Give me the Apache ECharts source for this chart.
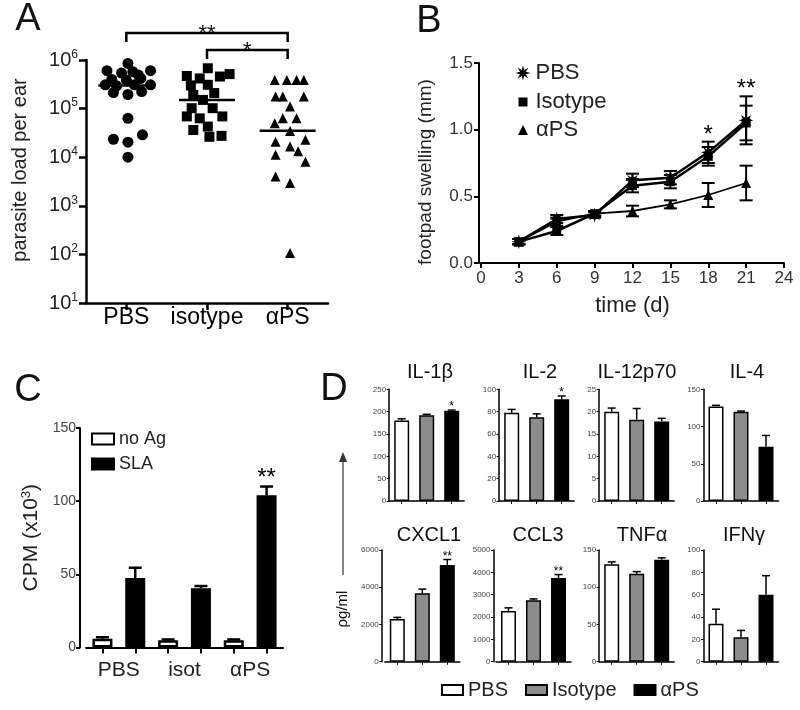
<!DOCTYPE html>
<html><head><meta charset="utf-8">
<script src="https://cdn.jsdelivr.net/npm/echarts@6/dist/echarts.min.js"></script>
<style>html,body{margin:0;padding:0;background:#fff}#c{width:800px;height:710px}</style>
</head><body><div id="c"></div>
<script>
const FONT = '"Liberation Sans", Arial, Helvetica, sans-serif';

// ---------- Panel A data ----------
const aCategories = ['PBS', 'isotype', 'αPS'];
const aPBS = [[1.02,851000],[0.76,603000],[1.30,603000],[0.94,537000],[1.08,575000],[1.15,490000],[0.82,398000],[1.18,417000],[1.00,389000],[0.74,309000],[0.88,295000],[1.10,309000],[1.30,309000],[0.84,214000],[1.02,195000],[1.19,224000],[1.02,63000],[0.84,23400],[1.02,20400],[1.20,28800],[1.02,10000]];
const aIsotype = [[2.01,676000],[1.75,468000],[1.91,417000],[2.16,457000],[2.28,513000],[2.01,309000],[1.80,300000],[1.83,191000],[2.09,209000],[1.95,151000],[1.81,102000],[2.07,102000],[1.75,69000],[2.19,69000],[1.91,63000],[2.01,42700],[1.83,36300],[2.03,26300],[2.18,27500]];
const aAlphaPS = [[2.84,389000],[2.99,389000],[3.11,389000],[3.20,389000],[2.85,178000],[2.94,178000],[3.20,178000],[3.03,110000],[2.84,50000],[2.94,63000],[3.11,63000],[3.03,34700],[2.85,20900],[3.03,16600],[3.22,22900],[2.85,11200],[3.13,13200],[3.22,8100],[2.85,4000],[3.03,2950],[3.03,107]];
const aMedians = [300000, 150000, 35000];
const aBrackets = [[1, 3, '**'], [2, 3, '*']];

// ---------- Panel B data ----------
const bDays = [3, 6, 9, 12, 15, 18, 21];
const bPBS = [0.16, 0.33, 0.36, 0.62, 0.64, 0.83, 1.07];
const bPBSErr = [0.02, 0.03, 0.02, 0.05, 0.05, 0.08, 0.18];
const bIsotype = [0.16, 0.24, 0.37, 0.58, 0.61, 0.80, 1.05];
const bIsotypeErr = [0.02, 0.03, 0.02, 0.05, 0.05, 0.07, 0.13];
const bAlphaPS = [0.16, 0.31, 0.37, 0.39, 0.44, 0.51, 0.60];
const bAlphaPSErr = [0.02, 0.03, 0.02, 0.04, 0.03, 0.09, 0.13];
const bSig = ['', '', '', '', '', '*', '**'];

// ---------- Panel C data ----------
const cCategories = ['PBS', 'isot', 'αPS'];
const cNoAg = [6, 5, 5];
const cNoAgErr = [1, 0.5, 0.5];
const cSLA = [47.5, 40.5, 104];
const cSLAErr = [7, 1.5, 6];
const cSig = ['', '', '**'];

// ---------- Panel D data ----------
const dGroups = ['PBS', 'Isotype', 'αPS'];
const dPanels = ['IL-1β', 'IL-2', 'IL-12p70', 'IL-4', 'CXCL1', 'CCL3', 'TNFα', 'IFNγ'];
const dMax = [250, 100, 25, 150, 6000, 5000, 150, 100];
const dInterval = [50, 20, 5, 50, 2000, 1000, 50, 20];
const dValues = [[180,192,202],[79,75,91],[20,18.2,17.8],[127,120,73],[2300,3680,5200],[2270,2750,3750],[131,118,137],[34,22,60]];
const dErrors = [[4,2,1.5],[3,3,3],[0.8,2.5,0.7],[1.5,0.8,15],[80,220,290],[140,60,150],[3,3,2.5],[13,6,17]];
const dSig = [['','','*'],['','','*'],['','',''],['','',''],['','','**'],['','','**'],['','',''],['','','']];

// ---------- layout / style ----------
const dColors = ['#ffffff', '#8c8c8c', '#000000'];
const dGridLeft = [389.2, 499.2, 599.2, 703.5, 384.8, 496, 599.2, 703.5];
const dAxisOffset = [0, 0, 0, 0, 3, 2.5, 0, 0];
const dTitleX = [430, 540, 637, 747, 429, 538, 642, 744];

function starPath(n, r1, r2) {
  let d = '';
  for (let k = 0; k < 2 * n; k++) {
    const r = k % 2 ? r2 : r1;
    const a = Math.PI * k / n - Math.PI / 2;
    d += (k ? 'L' : 'M') + (r * Math.cos(a)).toFixed(3) + ',' + (r * Math.sin(a)).toFixed(3);
  }
  return 'path://' + d + 'Z';
}
const STAR = starPath(8, 10, 4.2);

const chart = echarts.init(document.getElementById('c'), null, {renderer: 'canvas'});

const blackLine = w => ({show: true, onZero: false, lineStyle: {color: '#000', width: w}});
const tick = (len, w, align) => ({show: true, inside: false, length: len, alignWithLabel: !!align, lineStyle: {color: '#000', width: w}});

function errRenderer(capHalf, lw, both, sigs, sigFont, sigOff) {
  return function (params, api) {
    const x = api.value(0), lo = api.value(1), hi = api.value(2);
    const p1 = api.coord([x, lo]), p2 = api.coord([x, hi]);
    const st = {stroke: '#000', lineWidth: lw};
    const ch = [
      {type: 'line', shape: {x1: p1[0], y1: p1[1], x2: p2[0], y2: p2[1]}, style: st},
      {type: 'line', shape: {x1: p2[0] - capHalf, y1: p2[1], x2: p2[0] + capHalf, y2: p2[1]}, style: st}
    ];
    if (both) ch.push({type: 'line', shape: {x1: p1[0] - capHalf, y1: p1[1], x2: p1[0] + capHalf, y2: p1[1]}, style: st});
    const s = sigs ? sigs[params.dataIndex] : '';
    if (s) ch.push({type: 'text', x: p2[0], y: p2[1] - sigOff, style: {text: s, fontSize: sigFont, fontFamily: FONT, fill: '#000', align: 'center', verticalAlign: 'middle'}});
    return {type: 'group', children: ch};
  };
}

const grids = [
  {left: 86, top: 60, width: 242, height: 243},
  {left: 481, top: 63, width: 303, height: 200},
  {left: 86, top: 428, width: 197, height: 219.5}
];
dGridLeft.forEach((l, i) => grids.push({left: l, top: i < 4 ? 389.3 : 550, width: 75, height: 111.7}));

const xAxes = [
  {gridIndex: 0, type: 'category', position: 'bottom', data: aCategories, axisLine: blackLine(2.5), axisTick: tick(7, 2.5, true),
   axisLabel: {interval: 0, fontSize: 23, color: '#000', margin: 3, fontFamily: FONT}},
  {gridIndex: 0, type: 'value', min: 0.5, max: 3.5, show: false},
  {gridIndex: 1, type: 'value', position: 'bottom', min: 0, max: 24, interval: 3, axisLine: blackLine(2), axisTick: tick(5, 2),
   splitLine: {show: false}, axisLabel: {fontSize: 17, color: '#333', margin: 7, fontFamily: FONT},
   name: 'time (d)', nameLocation: 'middle', nameGap: 32, nameTextStyle: {fontSize: 22, color: '#222', fontFamily: FONT}},
  {gridIndex: 2, type: 'category', position: 'bottom', data: cCategories, axisLine: blackLine(2), axisTick: {show: false},
   axisLabel: {interval: 0, fontSize: 21, color: '#222', margin: 12, fontFamily: FONT}},
  {gridIndex: 2, type: 'category', position: 'bottom', data: ['', '', '', '', '', ''], axisLine: {show: false}, axisTick: Object.assign(tick(6, 2, true), {interval: 0}), axisLabel: {show: false}}
];
const yAxes = [
  {gridIndex: 0, type: 'log', logBase: 10, min: 10, max: 1000000, axisLine: blackLine(2.5), axisTick: tick(7, 2.5), splitLine: {show: false},
   axisLabel: {margin: 8, formatter: v => '{b|10}{s|' + Math.round(Math.log10(v)) + '}',
     rich: {b: {fontSize: 20, color: '#222', fontFamily: FONT}, s: {fontSize: 12, color: '#222', fontFamily: FONT, padding: [0, 0, 11, 0]}}},
   name: 'parasite load per ear', nameLocation: 'middle', nameGap: 56, nameRotate: 90,
   nameTextStyle: {fontSize: 20, color: '#222', fontFamily: FONT, padding: [0, 0, 0, 23]}},
  {gridIndex: 1, type: 'value', min: 0, max: 1.5, interval: 0.5, offset: 2, axisLine: blackLine(2), axisTick: tick(5, 2), splitLine: {show: false},
   axisLabel: {fontSize: 17, color: '#333', margin: 6, fontFamily: FONT, formatter: v => v.toFixed(1)},
   name: 'footpad swelling (mm)', nameLocation: 'middle', nameGap: 44, nameRotate: 90,
   nameTextStyle: {fontSize: 19, color: '#222', fontFamily: FONT, padding: [0, 18, 0, 0]}},
  {gridIndex: 2, type: 'value', min: 0, max: 150, interval: 50, offset: 6, axisLine: blackLine(2), axisTick: tick(4, 2), splitLine: {show: false},
   axisLabel: {fontSize: 14, color: '#444', margin: 4, fontFamily: FONT},
   name: '{a|CPM (x10}{s|3}{a|)}', nameLocation: 'middle', nameGap: 37, nameRotate: 90,
   nameTextStyle: {rich: {a: {fontSize: 21, color: '#222', fontFamily: FONT}, s: {fontSize: 13, color: '#222', fontFamily: FONT, padding: [0, 0, 10, 0]}}}}
];
dPanels.forEach((p, i) => {
  xAxes.push({gridIndex: 3 + i, type: 'category', position: 'bottom', data: dGroups, axisLine: blackLine(1.5), axisTick: Object.assign(tick(3, 1, true), {interval: 0}), axisLabel: {show: false}});
  yAxes.push({gridIndex: 3 + i, type: 'value', min: 0, max: dMax[i], interval: dInterval[i], offset: dAxisOffset[i], axisLine: blackLine(1.5), axisTick: tick(2.5, 1),
    splitLine: {show: false}, axisLabel: {fontSize: 8, color: '#444', margin: 3, fontFamily: FONT, formatter: v => String(v)}});
});

const series = [];
// A
series.push({type: 'scatter', name: 'A-PBS', xAxisIndex: 1, yAxisIndex: 0, data: aPBS, symbol: 'circle', symbolSize: 11, itemStyle: {color: '#000', opacity: 1}});
series.push({type: 'scatter', name: 'A-isotype', xAxisIndex: 1, yAxisIndex: 0, data: aIsotype, symbol: 'rect', symbolSize: 10, itemStyle: {color: '#000', opacity: 1}});
series.push({type: 'scatter', name: 'A-aPS', xAxisIndex: 1, yAxisIndex: 0, data: aAlphaPS, symbol: 'triangle', symbolSize: 10, itemStyle: {color: '#000', opacity: 1}});
series.push({type: 'custom', name: 'A-median', xAxisIndex: 0, yAxisIndex: 0, data: aMedians.map((m, i) => [i, m]), z: 5,
  renderItem: (params, api) => {
    const p = api.coord([api.value(0), api.value(1)]);
    return {type: 'line', shape: {x1: p[0] - 28, y1: p[1], x2: p[0] + 28, y2: p[1]}, style: {stroke: '#000', lineWidth: 2.5}};
  }});
// B
const bSets = [
  {name: 'αPS', vals: bAlphaPS, err: bAlphaPSErr, symbol: 'triangle', size: 10, lw: 1.8, sig: null},
  {name: 'Isotype', vals: bIsotype, err: bIsotypeErr, symbol: 'rect', size: 9, lw: 2.5, sig: null},
  {name: 'PBS', vals: bPBS, err: bPBSErr, symbol: STAR, size: 15, lw: 2.5, sig: bSig}
];
bSets.forEach(s => {
  series.push({type: 'line', name: s.name, xAxisIndex: 2, yAxisIndex: 1, data: bDays.map((d, i) => [d, s.vals[i]]),
    symbol: s.symbol, symbolSize: s.size, showSymbol: true, lineStyle: {color: '#000', width: s.lw}, itemStyle: {color: '#000', borderWidth: 0}, z: 3});
  series.push({type: 'custom', name: s.name + '-err', xAxisIndex: 2, yAxisIndex: 1, z: 4,
    data: bDays.map((d, i) => [d, s.vals[i] - s.err[i], s.vals[i] + s.err[i]]),
    renderItem: errRenderer(6.5, 2, true, s.sig, 24, 6.5)});
});
// C
series.push({type: 'bar', name: 'no Ag', xAxisIndex: 3, yAxisIndex: 2, data: cNoAg, barWidth: 20, barGap: '64%',
  itemStyle: {color: '#fff', borderColor: '#000', borderWidth: 2.5}});
series.push({type: 'bar', name: 'SLA', xAxisIndex: 3, yAxisIndex: 2, data: cSLA, barWidth: 20, barGap: '64%',
  itemStyle: {color: '#000', borderColor: '#000', borderWidth: 2.5}});
const cErrData = [], cErrSig = [];
cCategories.forEach((c, i) => {
  cErrData.push([2 * i, cNoAg[i], cNoAg[i] + cNoAgErr[i]]); cErrSig.push('');
  cErrData.push([2 * i + 1, cSLA[i], cSLA[i] + cSLAErr[i]]); cErrSig.push(cSig[i]);
});
series.push({type: 'custom', name: 'C-err', xAxisIndex: 4, yAxisIndex: 2, data: cErrData, z: 4, renderItem: errRenderer(6.5, 2.5, false, cErrSig, 24, 8.5)});
// D
dPanels.forEach((p, i) => {
  dGroups.forEach((g, j) => {
    series.push({type: 'bar', name: 'D-' + g, xAxisIndex: 5 + i, yAxisIndex: 3 + i, barWidth: 15, barGap: '-100%',
      data: dGroups.map((gg, k) => k === j ? dValues[i][j] : '-'),
      itemStyle: {color: dColors[j], borderColor: '#000', borderWidth: 1.5}});
  });
  series.push({type: 'custom', name: 'D-err-' + p, xAxisIndex: 5 + i, yAxisIndex: 3 + i, z: 4,
    data: dGroups.map((g, j) => [j, dValues[i][j], dValues[i][j] + dErrors[i][j]]),
    renderItem: errRenderer(4, 1.5, false, dSig[i], 12, 3)});
});

const legTxt = (fs) => ({fontSize: fs, color: '#222', fontFamily: FONT});
const legends = [
  {data: [{name: 'PBS', icon: STAR}], left: 515.5, top: 62, padding: 0, itemWidth: 15, itemHeight: 15, selectedMode: false, textStyle: legTxt(22)},
  {data: [{name: 'Isotype', icon: 'rect'}], left: 518.5, top: 91, padding: 0, itemWidth: 9, itemHeight: 9, selectedMode: false, textStyle: Object.assign(legTxt(22), {padding: [0, 0, 0, 3]})},
  {data: [{name: 'αPS', icon: 'triangle'}], left: 518, top: 119, padding: 0, itemWidth: 10, itemHeight: 10, selectedMode: false, textStyle: Object.assign(legTxt(22), {padding: [0, 0, 0, 3]})},
  {data: ['no Ag', 'SLA'], orient: 'vertical', left: 91, top: 430, padding: 0, itemWidth: 22, itemHeight: 11, itemGap: 7, selectedMode: false, icon: 'rect', textStyle: legTxt(18)},
  {data: dGroups.map(g => 'D-' + g), formatter: n => n.slice(2), left: 441, top: 680, padding: 0, itemWidth: 21, itemHeight: 10, itemGap: 17, selectedMode: false, icon: 'rect', textStyle: legTxt(20)}
];

const txt = (text, x, y, fs, extra) => Object.assign({type: 'text', x: x, y: y, silent: true,
  style: {text: text, fontSize: fs, fontFamily: FONT, fill: '#111', align: 'center', verticalAlign: 'middle'}}, extra || {});

const graphics = [
  txt('A', 28, 20, 38), txt('B', 429, 22, 38), txt('C', 28, 391, 38), txt('D', 334, 390, 38)
];
dPanels.forEach((p, i) => graphics.push(txt(p, dTitleX[i], i < 4 ? 372 : 535.5, 20)));
graphics.push({type: 'line', shape: {x1: 343, y1: 575, x2: 343, y2: 460}, style: {stroke: '#333', lineWidth: 1.2}});
graphics.push({type: 'polygon', shape: {points: [[343, 452], [339, 462], [347, 462]]}, style: {fill: '#333'}});
graphics.push(txt('ρg/ml', 343, 609, 15, {rotation: Math.PI / 2}));

chart.setOption({
  animation: false,
  backgroundColor: '#fff',
  textStyle: {fontFamily: FONT},
  grid: grids, xAxis: xAxes, yAxis: yAxes, series: series, legend: legends, graphic: graphics
});

// brackets for panel A, positioned from category positions
const brk = [];
aBrackets.forEach((b, k) => {
  const x1 = chart.convertToPixel({xAxisIndex: 1}, b[0]);
  const x2 = chart.convertToPixel({xAxisIndex: 1}, b[1]);
  const y = k === 0 ? 33 : 50, leg = 9;
  brk.push({type: 'polyline', shape: {points: [[x1, y + leg], [x1, y], [x2, y], [x2, y + leg]]}, style: {stroke: '#000', lineWidth: 2.5, fill: null}});
  brk.push(txt(b[2], (x1 + x2) / 2, y + 1, 22, {style: {text: b[2], fontSize: 22, fontFamily: FONT, fill: '#111', align: 'center', verticalAlign: 'middle'}}));
});
chart.setOption({graphic: graphics.concat(brk)});
</script>
</body></html>
